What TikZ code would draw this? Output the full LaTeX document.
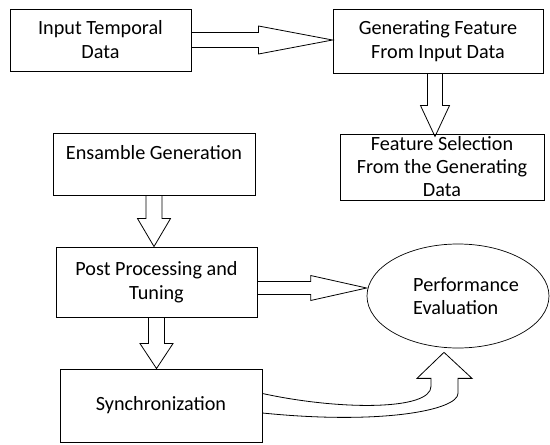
\documentclass[tikz,border=0pt]{standalone}
\usepackage{fontspec}
\setmainfont{Carlito}
\usetikzlibrary{calc,shapes.geometric}

\tikzset{
  box/.style={draw, line width=0.9pt, inner sep=0pt, align=center, font=\fontsize{20.2}{24}\selectfont},
  blk/.style={line width=0.8pt}
}

\newcommand\rblock[5]{%
  \draw[blk] let \p1=(#1), \p2=(#2) in
    (\x1,\y1+#3) -- (\x2-#5,\y1+#3) -- (\x2-#5,\y1+#4) -- (\x2,\y1)
    -- (\x2-#5,\y1-#4) -- (\x2-#5,\y1-#3) -- (\x1,\y1-#3);}
\newcommand\dblock[5]{%
  \draw[blk] let \p1=(#1), \p2=(#2) in
    (\x1-#3,\y1) -- (\x1-#3,\y2+#5) -- (\x1-#4,\y2+#5) -- (\x1,\y2)
    -- (\x1+#4,\y2+#5) -- (\x1+#3,\y2+#5) -- (\x1+#3,\y1);}

\begin{document}
\begin{tikzpicture}[x=1pt,y=-1pt]
  \useasboundingbox (0,0) rectangle (550,445);

  \node[box, minimum width=181pt, minimum height=62pt] (inp) at (100.5,40) {Input Temporal\\Data};
  \node[box, minimum width=210pt, minimum height=64pt] (gen) at (438,41) {Generating Feature\\From Input Data};
  \node[box, minimum width=204pt, minimum height=66pt, font=\fontsize{20.2}{23}\selectfont] (sel) at (442,167)
    {Feature Selection\\From the Generating\\Data};
  \node[box, minimum width=202pt, minimum height=62pt] (ens) at (154,164) {Ensamble Generation\\\mbox{}};
  \node[box, minimum width=201pt, minimum height=70pt] (post) at (156.5,282) {Post Processing and\\Tuning};
  \node[box, minimum width=202pt, minimum height=73pt] (sync) at (161,405.5) {Synchronization};
  \node[draw, ellipse, line width=0.7pt, inner sep=0pt, minimum width=182pt, minimum height=104pt,
    align=left, font=\fontsize{20.2}{23}\selectfont] (perf) at (458,296)
    {\hspace*{16pt}Performance\\\hspace*{16pt}Evaluation};

  \rblock{inp.east}{gen.west}{7.5pt}{14pt}{74pt}
  \dblock{[xshift=-3pt]gen.south}{[yshift=-3pt]sel.north}{7.5pt}{14.5pt}{31pt}
  \dblock{ens.south}{post.north}{8pt}{16.5pt}{28pt}
  \dblock{post.south}{sync.north}{8pt}{16.5pt}{25pt}
  \rblock{[yshift=-6pt]post.east}{perf.west}{6.5pt}{12.5pt}{56pt}

  \coordinate (tip) at ([shift={(-14,4)}]perf.south);
  \draw[blk] ([yshift=12pt]sync.east) .. controls +(78,17) and +(0,24) .. ([shift={(-13,34)}]tip)
    -- ++(0,-8) -- ++(-14,0) -- (tip) -- ++(28,26) -- ++(-14,0) -- ++(0,15)
    .. controls +(0,17) and +(118,12) .. ([yshift=-7.5pt]sync.east);
\end{tikzpicture}
\end{document}
